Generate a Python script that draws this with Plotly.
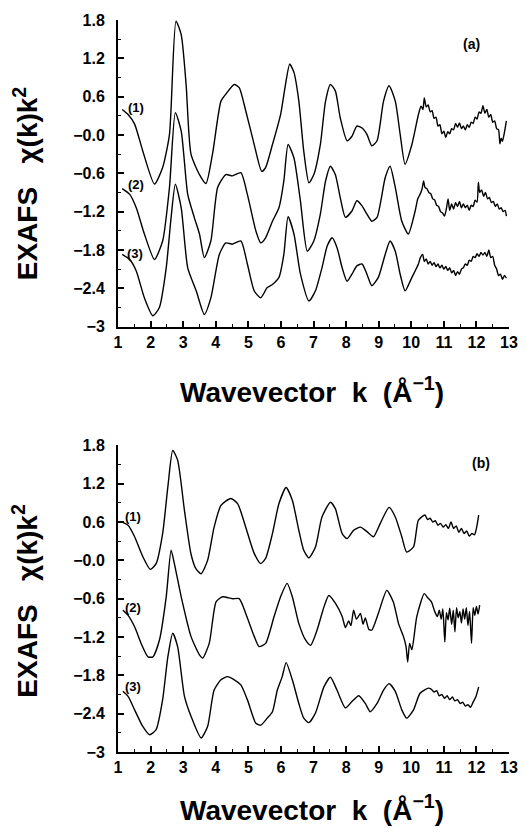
import plotly.graph_objects as go

# ---------------- Panel (a) ----------------
k_a1 = [1.13, 1.31, 1.51, 1.76, 2.12, 2.37, 2.58, 2.78, 2.94, 3.09, 3.24, 3.50, 3.70, 3.90, 4.16, 4.31, 4.57, 4.72, 4.92, 5.18, 5.41, 5.53, 5.74, 5.99, 6.14, 6.27, 6.40, 6.55, 6.70, 6.86, 7.01, 7.21, 7.37, 7.52, 7.67, 7.82, 8.03, 8.18, 8.33, 8.49, 8.64, 8.79, 8.95, 9.15, 9.32, 9.51, 9.66, 9.81, 10.02,
        10.22, 10.30, 10.36, 10.40, 10.46, 10.52, 10.58, 10.64, 10.70, 10.76, 10.82, 10.88, 10.94, 11.00, 11.06, 11.12, 11.18, 11.24, 11.30, 11.36, 11.42, 11.48, 11.54, 11.60, 11.66, 11.72, 11.78, 11.84, 11.90, 11.96, 12.02, 12.08, 12.14, 12.20, 12.26, 12.32, 12.38, 12.44, 12.50, 12.56, 12.62, 12.68, 12.72, 12.76, 12.80, 12.86, 12.92]
y_a1 = [0.40, 0.32, 0.17, -0.25, -0.77, -0.51, 0.01, 1.78, 1.57, 0.79, -0.30, -0.62, -0.76, -0.30, 0.53, 0.64, 0.79, 0.74, 0.38, -0.15, -0.57, -0.51, -0.15, 0.32, 0.79, 1.11, 0.98, 0.53, -0.25, -0.75, -0.62, -0.15, 0.53, 0.79, 0.69, 0.27, -0.09, -0.02, 0.14, 0.11, 0.01, -0.17, -0.09, 0.53, 0.77, 0.53, 0.01, -0.46, -0.15,
        0.32, 0.45, 0.40, 0.58, 0.44, 0.47, 0.36, 0.38, 0.26, 0.28, 0.14, 0.16, 0.02, 0.06, -0.04, 0.05, 0.02, 0.10, 0.08, 0.18, 0.12, 0.19, 0.10, 0.14, 0.08, 0.16, 0.12, 0.20, 0.18, 0.28, 0.25, 0.36, 0.34, 0.46, 0.34, 0.40, 0.28, 0.32, 0.20, 0.22, 0.10, 0.08, -0.14, -0.05, -0.10, 0.04, 0.22]

k_a2 = [1.13, 1.36, 1.56, 1.81, 2.12, 2.37, 2.58, 2.76, 2.94, 3.14, 3.34, 3.50, 3.65, 3.85, 4.06, 4.31, 4.51, 4.77, 4.97, 5.23, 5.38, 5.53, 5.74, 5.94, 6.09, 6.22, 6.40, 6.60, 6.81, 7.01, 7.21, 7.37, 7.52, 7.67, 7.82, 7.98, 8.18, 8.33, 8.49, 8.64, 8.79, 8.95, 9.20, 9.35, 9.51, 9.71, 9.91,
        10.12, 10.20, 10.27, 10.33, 10.38, 10.42, 10.48, 10.54, 10.60, 10.66, 10.72, 10.78, 10.84, 10.90, 10.96, 11.02, 11.08, 11.13, 11.18, 11.24, 11.30, 11.36, 11.42, 11.48, 11.54, 11.60, 11.66, 11.72, 11.78, 11.84, 11.90, 11.96, 12.02, 12.06, 12.10, 12.16, 12.22, 12.28, 12.34, 12.40, 12.46, 12.52, 12.58, 12.64, 12.70, 12.76, 12.82, 12.88, 12.92]
y_a2 = [-0.84, -0.93, -1.14, -1.55, -1.95, -1.66, -0.82, 0.35, 0.06, -0.93, -1.29, -1.55, -1.92, -1.66, -0.82, -0.62, -0.64, -0.59, -0.93, -1.50, -1.69, -1.61, -1.35, -1.14, -0.72, -0.15, -0.36, -1.04, -1.82, -1.66, -1.24, -0.72, -0.49, -0.62, -0.98, -1.29, -1.19, -1.03, -1.11, -1.24, -1.35, -1.29, -0.67, -0.49, -0.82, -1.35, -1.55,
        -1.19, -1.00, -0.93, -0.85, -0.72, -0.82, -0.84, -0.90, -0.92, -1.00, -1.02, -1.10, -1.12, -1.20, -1.22, -1.27, -1.15, -1.00, -1.18, -1.08, -1.16, -1.06, -1.12, -1.04, -1.14, -1.08, -1.14, -1.10, -1.18, -1.10, -1.12, -1.02, -1.05, -0.74, -0.90, -0.86, -0.96, -0.90, -1.00, -0.98, -1.06, -1.04, -1.12, -1.08, -1.16, -1.14, -1.20, -1.18, -1.27]

k_a3 = [1.13, 1.36, 1.56, 1.81, 2.07, 2.27, 2.48, 2.63, 2.76, 2.94, 3.14, 3.40, 3.65, 3.85, 4.11, 4.31, 4.51, 4.77, 4.97, 5.18, 5.38, 5.58, 5.74, 5.94, 6.09, 6.22, 6.40, 6.60, 6.86, 7.06, 7.26, 7.42, 7.57, 7.72, 7.88, 8.03, 8.18, 8.33, 8.49, 8.64, 8.79, 8.99, 9.20, 9.35, 9.51, 9.66, 9.81, 10.02,
        10.22, 10.28, 10.35, 10.40, 10.46, 10.52, 10.58, 10.64, 10.70, 10.76, 10.82, 10.88, 10.94, 11.00, 11.06, 11.12, 11.18, 11.24, 11.30, 11.36, 11.42, 11.48, 11.54, 11.60, 11.66, 11.72, 11.78, 11.84, 11.90, 11.96, 12.02, 12.08, 12.14, 12.20, 12.26, 12.32, 12.38, 12.44, 12.50, 12.56, 12.62, 12.68, 12.74, 12.80, 12.86, 12.92]
y_a3 = [-1.87, -1.95, -2.13, -2.55, -2.83, -2.70, -2.08, -1.29, -0.77, -1.14, -2.08, -2.44, -2.81, -2.55, -1.87, -1.69, -1.71, -1.66, -2.02, -2.44, -2.55, -2.39, -2.34, -2.23, -1.87, -1.28, -1.55, -2.18, -2.60, -2.44, -2.08, -1.74, -1.61, -1.76, -2.08, -2.29, -2.18, -2.05, -2.02, -2.18, -2.36, -2.23, -1.87, -1.66, -1.82, -2.18, -2.44, -2.23,
        -2.02, -1.92, -1.87, -1.98, -1.94, -2.02, -1.98, -2.04, -2.00, -2.06, -2.02, -2.08, -2.04, -2.10, -2.06, -2.12, -2.08, -2.16, -2.12, -2.20, -2.14, -2.18, -2.10, -2.08, -2.02, -2.04, -1.96, -1.98, -1.90, -1.92, -1.86, -1.90, -1.84, -1.88, -1.84, -1.90, -1.80, -1.92, -1.90, -2.04, -2.10, -2.20, -2.18, -2.26, -2.20, -2.24]

# ---------------- Panel (b) ----------------
k_b1 = [1.13, 1.31, 1.51, 1.76, 1.99, 2.17, 2.37, 2.53, 2.68, 2.83, 3.04, 3.24, 3.39, 3.55, 3.75, 3.95, 4.16, 4.46, 4.67, 4.92, 5.18, 5.38, 5.53, 5.74, 5.94, 6.16, 6.35, 6.55, 6.70, 6.86, 7.06, 7.26, 7.52, 7.67, 7.88, 8.03, 8.23, 8.44, 8.64, 8.84, 9.05, 9.32, 9.51, 9.71, 9.86, 10.07, 10.22,
        10.42, 10.50, 10.58, 10.66, 10.74, 10.82, 10.90, 10.98, 11.06, 11.14, 11.22, 11.30, 11.38, 11.46, 11.54, 11.62, 11.70, 11.78, 11.86, 11.94, 12.00, 12.07]
y_b1 = [0.60, 0.55, 0.37, 0.06, -0.14, -0.05, 0.42, 1.15, 1.72, 1.57, 0.78, 0.10, -0.13, -0.21, 0.00, 0.52, 0.86, 0.97, 0.89, 0.52, 0.11, -0.05, 0.03, 0.42, 0.89, 1.14, 0.94, 0.47, 0.16, 0.04, 0.21, 0.68, 0.91, 0.81, 0.42, 0.34, 0.47, 0.52, 0.45, 0.37, 0.58, 0.83, 0.68, 0.37, 0.13, 0.21, 0.63,
        0.71, 0.64, 0.66, 0.60, 0.62, 0.55, 0.58, 0.52, 0.56, 0.50, 0.60, 0.50, 0.54, 0.44, 0.50, 0.42, 0.46, 0.38, 0.42, 0.40, 0.50, 0.71]

k_b2 = [1.15, 1.31, 1.51, 1.71, 1.92, 2.07, 2.27, 2.48, 2.63, 2.73, 2.94, 3.24, 3.50, 3.60, 3.80, 4.01, 4.21, 4.51, 4.72, 4.92, 5.18, 5.33, 5.53, 5.79, 5.99, 6.19, 6.35, 6.55, 6.76, 6.91, 7.11, 7.32, 7.47, 7.67, 7.88, 7.98, 8.08, 8.15, 8.23, 8.32, 8.44, 8.52, 8.59, 8.70, 8.79, 8.99, 9.25, 9.45, 9.61, 9.76, 9.84, 9.89, 9.95, 10.02, 10.17,
        10.40, 10.50, 10.62, 10.72, 10.80, 10.86, 10.92, 10.97, 11.03, 11.08, 11.13, 11.18, 11.24, 11.29, 11.34, 11.39, 11.44, 11.49, 11.54, 11.59, 11.64, 11.69, 11.74, 11.79, 11.85, 11.90, 11.95, 12.00, 12.05, 12.10]
y_b2 = [-0.78, -0.86, -1.04, -1.30, -1.51, -1.51, -1.25, -0.57, 0.16, -0.05, -0.57, -1.19, -1.48, -1.53, -1.30, -0.65, -0.57, -0.60, -0.60, -0.83, -1.19, -1.35, -1.30, -0.88, -0.57, -0.36, -0.57, -0.99, -1.25, -1.33, -1.09, -0.73, -0.55, -0.67, -0.88, -1.05, -0.95, -1.02, -0.78, -0.92, -0.83, -1.00, -0.90, -1.08, -1.09, -0.83, -0.47, -0.65, -0.99, -1.19, -1.35, -1.59, -1.30, -1.40, -0.88,
        -0.52, -0.58, -0.65, -0.80, -0.88, -0.78, -0.92, -0.76, -1.28, -0.82, -0.93, -0.75, -1.00, -0.78, -1.12, -0.74, -0.90, -0.80, -0.98, -0.76, -0.92, -0.74, -1.02, -0.80, -1.30, -0.74, -0.86, -0.72, -0.84, -0.70]

k_b3 = [1.15, 1.31, 1.51, 1.76, 1.97, 2.17, 2.37, 2.53, 2.68, 2.83, 3.04, 3.24, 3.55, 3.75, 3.95, 4.16, 4.36, 4.57, 4.77, 4.97, 5.23, 5.38, 5.58, 5.74, 5.89, 6.04, 6.16, 6.35, 6.55, 6.70, 6.86, 7.06, 7.32, 7.52, 7.72, 7.98, 8.18, 8.39, 8.59, 8.74, 8.95, 9.15, 9.32, 9.51, 9.71, 9.86, 10.07, 10.27,
        10.53, 10.62, 10.70, 10.78, 10.86, 10.94, 11.02, 11.10, 11.18, 11.26, 11.34, 11.42, 11.50, 11.58, 11.66, 11.74, 11.82, 11.90, 11.98, 12.07]
y_b3 = [-2.05, -2.13, -2.34, -2.60, -2.73, -2.65, -2.18, -1.51, -1.14, -1.35, -2.13, -2.44, -2.78, -2.60, -2.03, -1.87, -1.82, -1.87, -1.95, -2.18, -2.55, -2.58, -2.47, -2.37, -2.03, -1.82, -1.60, -1.87, -2.24, -2.47, -2.54, -2.39, -1.98, -1.83, -2.03, -2.31, -2.21, -2.12, -2.24, -2.37, -2.24, -2.03, -1.93, -2.05, -2.34, -2.47, -2.34, -2.08,
        -2.00, -2.02, -2.06, -2.04, -2.12, -2.10, -2.16, -2.12, -2.18, -2.14, -2.20, -2.18, -2.24, -2.22, -2.28, -2.26, -2.30, -2.22, -2.14, -1.98]

# labels
curve_labels = ["(1)", "(2)", "(3)"]
label_k_a = [1.54, 1.54, 1.52]
label_y_a = [0.43, -0.77, -1.85]
label_k_b = [1.46, 1.46, 1.46]
label_y_b = [0.68, -0.73, -1.98]
panel_labels = ["(a)", "(b)"]

y_tickvals = [1.8, 1.2, 0.6, 0.0, -0.6, -1.2, -1.8, -2.4, -3.0]
y_ticktext = ["1.8", "1.2", "0.6", "\u22120.0", "\u22120.6", "\u22121.2", "\u22121.8", "\u22122.4", "\u22123"]
x_tickvals = list(range(1, 14))

fig = go.Figure()
line = dict(color="black", width=1.4, shape="spline", smoothing=0.6)
for kk, yy in [(k_a1, y_a1), (k_a2, y_a2), (k_a3, y_a3)]:
    fig.add_trace(go.Scatter(x=kk, y=yy, mode="lines", line=line, xaxis="x", yaxis="y", showlegend=False))
for kk, yy in [(k_b1, y_b1), (k_b2, y_b2), (k_b3, y_b3)]:
    fig.add_trace(go.Scatter(x=kk, y=yy, mode="lines", line=line, xaxis="x2", yaxis="y2", showlegend=False))

tickfont = dict(family="Liberation Sans, Arial, sans-serif", size=16, color="black", weight="bold")
common_x = dict(range=[1, 13], tickvals=x_tickvals, showgrid=False, zeroline=False,
                showline=True, linecolor="black", linewidth=2, ticks="inside", ticklen=6,
                tickwidth=1.5, tickcolor="black", tickfont=tickfont,
                minor=dict(dtick=0.5, ticks="inside", ticklen=3, tickwidth=1.2, tickcolor="black"))
common_y = dict(range=[-3, 1.8], tickvals=y_tickvals, ticktext=y_ticktext, showgrid=False, zeroline=False,
                showline=True, linecolor="black", linewidth=2, ticks="inside", ticklen=6,
                tickwidth=1.5, tickcolor="black", tickfont=tickfont, ticklabelstandoff=8,
                minor=dict(tickvals=[1.5, 0.9, 0.3, -0.3, -0.9, -1.5, -2.1, -2.7], ticks="inside",
                           ticklen=3, tickwidth=1.2, tickcolor="black"))

top_lo = (752 - 326) / 733
bot_hi = (752 - 445) / 733

fig.update_layout(
    width=530, height=832,
    margin=dict(l=118, r=19, t=19, b=80),
    paper_bgcolor="white", plot_bgcolor="white",
    xaxis=dict(domain=[0, 1], anchor="y", **common_x),
    yaxis=dict(domain=[top_lo, 1], anchor="x", **common_y),
    xaxis2=dict(domain=[0, 1], anchor="y2", **common_x),
    yaxis2=dict(domain=[0, bot_hi], anchor="x2", **common_y),
)

lab_font = dict(family="Liberation Sans, Arial, sans-serif", size=13, color="black", weight="bold")
panel_font = dict(family="Liberation Sans, Arial, sans-serif", size=14, color="black", weight="bold")
ann = []
for t, kx, vy in zip(curve_labels, label_k_a, label_y_a):
    ann.append(dict(x=kx, y=vy, xref="x", yref="y", text=t, showarrow=False, font=lab_font))
for t, kx, vy in zip(curve_labels, label_k_b, label_y_b):
    ann.append(dict(x=kx, y=vy, xref="x2", yref="y2", text=t, showarrow=False, font=lab_font))
ann.append(dict(x=11.84, y=1.43, xref="x", yref="y", text=panel_labels[0], showarrow=False, font=panel_font))
ann.append(dict(x=12.15, y=1.53, xref="x2", yref="y2", text=panel_labels[1], showarrow=False, font=panel_font))

title_font = dict(family="Liberation Sans, Arial, sans-serif", size=28, color="black", weight="bold")
xtitle = "Wavevector\u00a0 k\u00a0 (\u00c5<sup>\u22121</sup>)"
ytitle = "EXAFS\u00a0\u00a0 \u03c7(k)k<sup>2</sup>"
ann.append(dict(x=(313 - 118) / 393, y=(752 - 390) / 733, xref="paper", yref="paper", text=xtitle,
                showarrow=False, font=title_font, xanchor="center", yanchor="middle"))
ann.append(dict(x=(313 - 118) / 393, y=(752 - 808) / 733, xref="paper", yref="paper", text=xtitle,
                showarrow=False, font=title_font, xanchor="center", yanchor="middle"))
ann.append(dict(x=(25 - 118) / 393, y=(752 - 182) / 733, xref="paper", yref="paper", text=ytitle,
                showarrow=False, font=title_font, textangle=-90, xanchor="center", yanchor="middle"))
ann.append(dict(x=(25 - 118) / 393, y=(752 - 600) / 733, xref="paper", yref="paper", text=ytitle,
                showarrow=False, font=title_font, textangle=-90, xanchor="center", yanchor="middle"))
fig.update_layout(annotations=ann)

fig.write_html("out.html", config={"displayModeBar": False},
               post_script="document.body.style.margin='0';document.body.style.overflow='hidden';")
